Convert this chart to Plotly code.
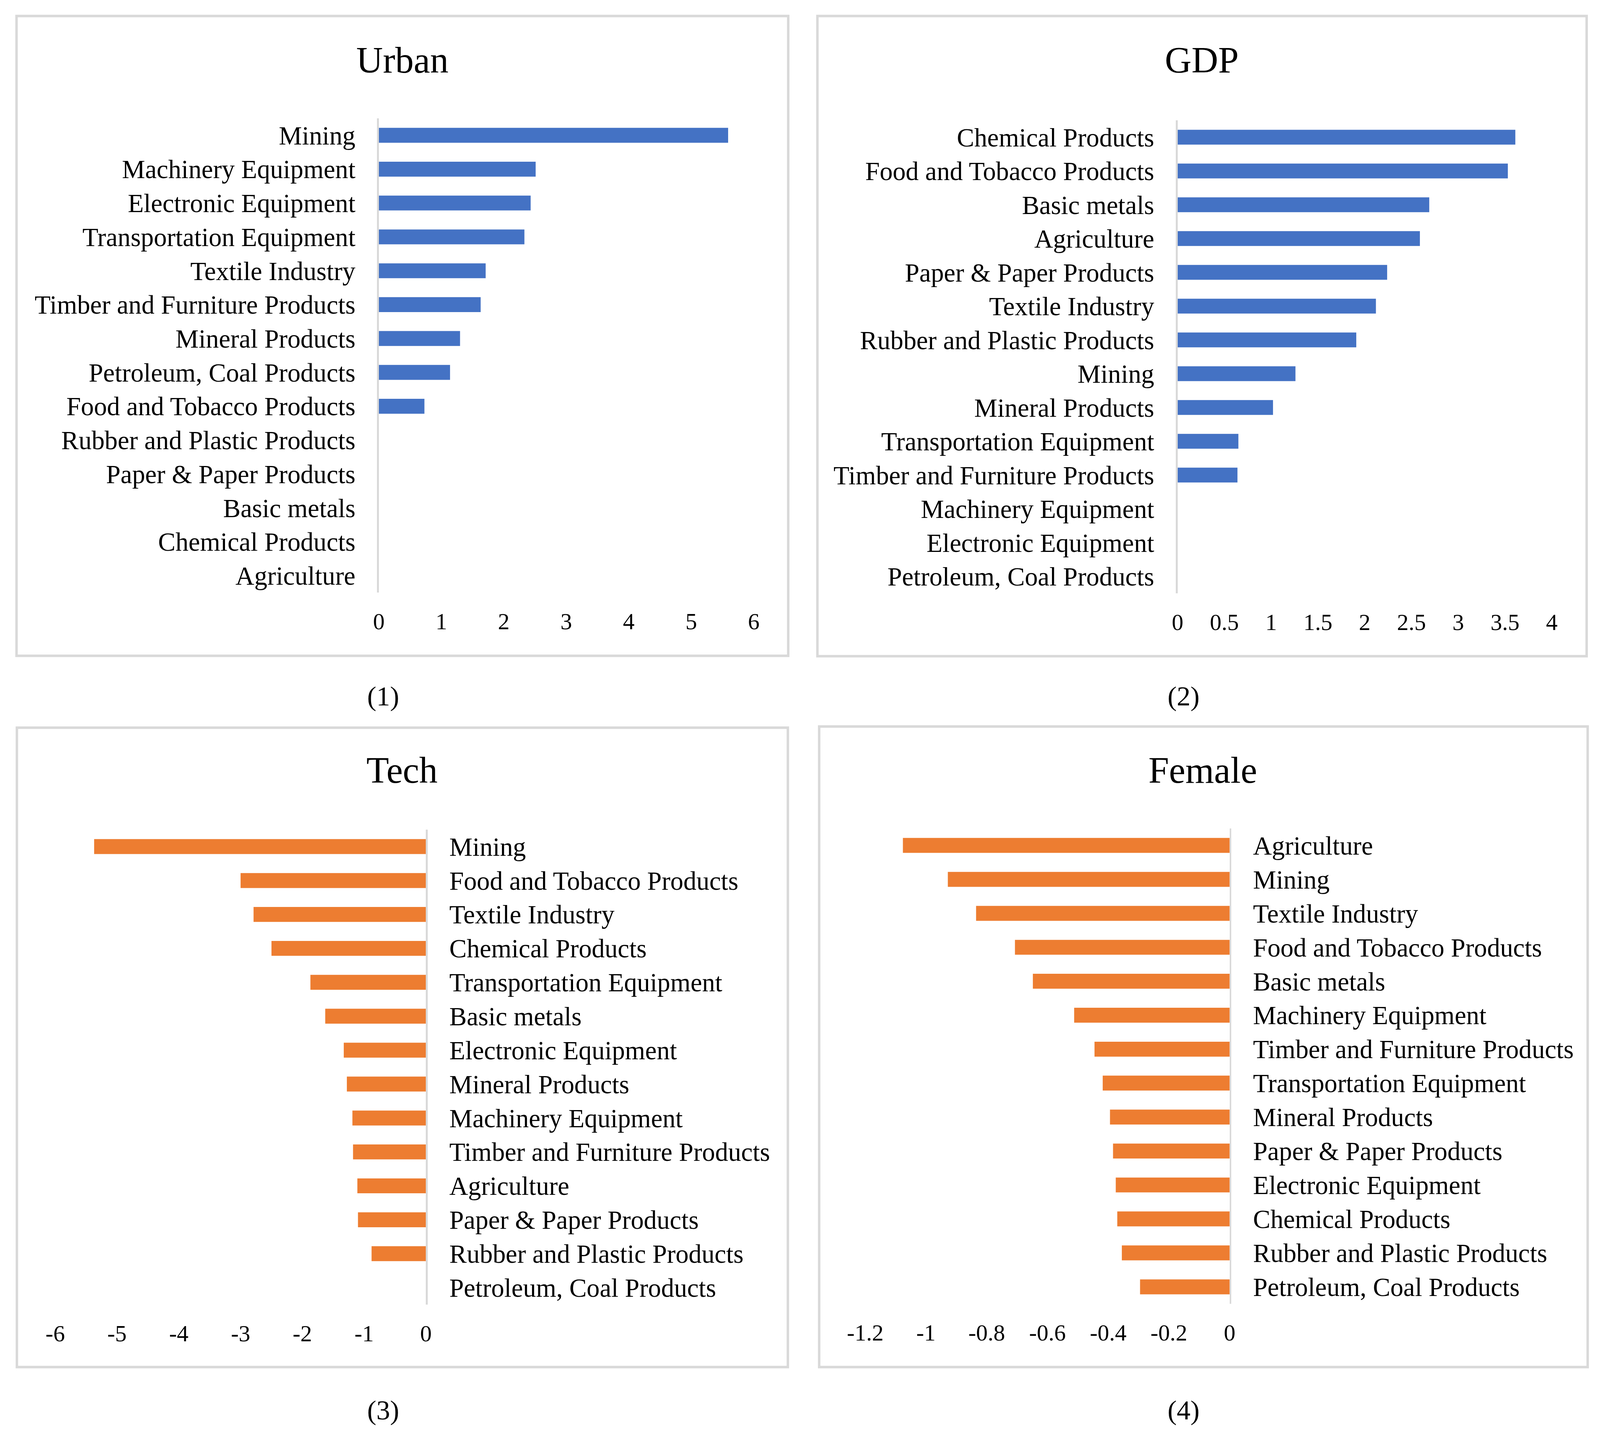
import plotly.graph_objects as go

# Reference geometry is 4549 x 3679; the browser viewport is 4096 x 3679,
# so positions are kept as fractions of the reference and sizes scaled.
REF_W, REF_H = 4549, 3679
FIG_W, FIG_H = 4096, 3679
S = FIG_W / REF_W

FONT = "Liberation Serif, Times New Roman, serif"
BLUE = "#4472C4"
ORANGE = "#ED7D31"
GREY = "#d9d9d9"

# ---------------- data ----------------
urban_categories = ["Mining", "Machinery Equipment", "Electronic Equipment", "Transportation Equipment",
                    "Textile Industry", "Timber and Furniture Products", "Mineral Products",
                    "Petroleum, Coal Products", "Food and Tobacco Products", "Rubber and Plastic Products",
                    "Paper & Paper Products", "Basic metals", "Chemical Products", "Agriculture"]
urban_values = [5.59, 2.51, 2.43, 2.33, 1.71, 1.63, 1.30, 1.14, 0.73, 0, 0, 0, 0, 0]

gdp_categories = ["Chemical Products", "Food and Tobacco Products", "Basic metals", "Agriculture",
                  "Paper & Paper Products", "Textile Industry", "Rubber and Plastic Products", "Mining",
                  "Mineral Products", "Transportation Equipment", "Timber and Furniture Products",
                  "Machinery Equipment", "Electronic Equipment", "Petroleum, Coal Products"]
gdp_values = [3.61, 3.53, 2.69, 2.59, 2.24, 2.12, 1.91, 1.26, 1.02, 0.65, 0.64, 0, 0, 0]

tech_categories = ["Mining", "Food and Tobacco Products", "Textile Industry", "Chemical Products",
                   "Transportation Equipment", "Basic metals", "Electronic Equipment", "Mineral Products",
                   "Machinery Equipment", "Timber and Furniture Products", "Agriculture",
                   "Paper & Paper Products", "Rubber and Plastic Products", "Petroleum, Coal Products"]
tech_values = [-5.37, -3.00, -2.79, -2.50, -1.87, -1.63, -1.33, -1.28, -1.19, -1.18, -1.11, -1.10, -0.88, 0]

female_categories = ["Agriculture", "Mining", "Textile Industry", "Food and Tobacco Products", "Basic metals",
                     "Machinery Equipment", "Timber and Furniture Products", "Transportation Equipment",
                     "Mineral Products", "Paper & Paper Products", "Electronic Equipment",
                     "Chemical Products", "Rubber and Plastic Products", "Petroleum, Coal Products"]
female_values = [-1.076, -0.928, -0.835, -0.707, -0.648, -0.512, -0.445, -0.418, -0.394, -0.384,
                 -0.375, -0.370, -0.355, -0.295]

urban_ticks = [0, 1, 2, 3, 4, 5, 6]
urban_ticktext = ["0", "1", "2", "3", "4", "5", "6"]
gdp_ticks = [0, 0.5, 1, 1.5, 2, 2.5, 3, 3.5, 4]
gdp_ticktext = ["0", "0.5", "1", "1.5", "2", "2.5", "3", "3.5", "4"]
tech_ticks = [-6, -5, -4, -3, -2, -1, 0]
tech_ticktext = ["-6", "-5", "-4", "-3", "-2", "-1", "0"]
female_ticks = [-1.2, -1, -0.8, -0.6, -0.4, -0.2, 0]
female_ticktext = ["-1.2", "-1", "-0.8", "-0.6", "-0.4", "-0.2", "0"]

titles = ["Urban", "GDP", "Tech", "Female"]
captions = ["(1)", "(2)", "(3)", "(4)"]

# ---------------- layout helpers (reference pixel geometry -> paper fractions) ----------------
def fx(px):
    return px / REF_W

def fy(py):
    return 1 - py / REF_H

panels = [
    dict(cats=urban_categories, vals=urban_values, color=BLUE, ticks=urban_ticks, ticktext=urban_ticktext,
         xr=[0, 6], xdom=(1077, 2143), ydom=(303, 1517), side="left"),
    dict(cats=gdp_categories, vals=gdp_values, color=BLUE, ticks=gdp_ticks, ticktext=gdp_ticktext,
         xr=[0, 4], xdom=(3348, 4412), ydom=(308, 1519), side="left"),
    dict(cats=tech_categories, vals=tech_values, color=ORANGE, ticks=tech_ticks, ticktext=tech_ticktext,
         xr=[-6, 0], xdom=(157, 1211), ydom=(2124, 3340), side="right"),
    dict(cats=female_categories, vals=female_values, color=ORANGE, ticks=female_ticks, ticktext=female_ticktext,
         xr=[-1.2, 0], xdom=(2460, 3496), ydom=(2121, 3338), side="right"),
]

fig = go.Figure()
layout = dict(
    width=FIG_W, height=FIG_H, autosize=False,
    margin=dict(l=0, r=0, t=0, b=0, pad=0),
    paper_bgcolor="white", plot_bgcolor="white",
    showlegend=False, bargap=0.56,
    font=dict(family=FONT, color="black"),
)

for i, p in enumerate(panels, start=1):
    xa = "x" if i == 1 else f"x{i}"
    ya = "y" if i == 1 else f"y{i}"
    fig.add_trace(go.Bar(
        x=p["vals"], y=p["cats"], orientation="h",
        marker=dict(color=p["color"], line=dict(width=0)),
        xaxis=xa, yaxis=ya, hoverinfo="skip",
    ))
    n = len(p["cats"])
    layout["xaxis" if i == 1 else f"xaxis{i}"] = dict(
        domain=[fx(p["xdom"][0]), fx(p["xdom"][1])],
        anchor=ya, range=p["xr"], automargin=False,
        tickmode="array", tickvals=p["ticks"], ticktext=p["ticktext"],
        showgrid=False, zeroline=False, showline=False, ticks="",
        tickfont=dict(family=FONT, size=66 * S, color="black"),
        ticklabelstandoff=34, fixedrange=True,
    )
    layout["yaxis" if i == 1 else f"yaxis{i}"] = dict(
        domain=[fy(p["ydom"][1]), fy(p["ydom"][0])],
        anchor=xa, type="category", automargin=False,
        categoryorder="array", categoryarray=p["cats"],
        tickmode="array", tickvals=p["cats"], ticktext=p["cats"],
        range=[n - 0.5, -0.5],
        side=p["side"],
        showgrid=False, zeroline=False, showline=True,
        linecolor=GREY, linewidth=5 * S, ticks="",
        tickfont=dict(family=FONT, size=74 * S, color="black"),
        ticklabelstandoff=42, fixedrange=True,
    )

# panel borders
borders = [(47, 41, 2241, 1679), (2324, 41, 4511, 1680), (48, 1863, 2240, 3500), (2329, 1860, 4514, 3500)]
shapes = []
for (x0, y0, x1, y1) in borders:
    shapes.append(dict(type="rect", xref="paper", yref="paper",
                       x0=fx(x0), x1=fx(x1), y0=fy(y1), y1=fy(y0),
                       line=dict(color=GREY, width=7 * S), fillcolor="rgba(0,0,0,0)", layer="below"))
layout["shapes"] = shapes

title_pos = [(1144, 154), (3417, 154), (1143, 1972), (3420, 1972)]
caption_pos = [(1089, 1782), (3365, 1782), (1089, 3610), (3365, 3610)]
annotations = []
for t, (x, y) in zip(titles, title_pos):
    annotations.append(dict(text=t, x=fx(x), y=fy(y), xref="paper", yref="paper",
                            xanchor="center", yanchor="middle", showarrow=False,
                            font=dict(family=FONT, size=105 * S, color="black")))
for c, (x, y) in zip(captions, caption_pos):
    annotations.append(dict(text=c, x=fx(x), y=fy(y), xref="paper", yref="paper",
                            xanchor="center", yanchor="middle", showarrow=False,
                            font=dict(family=FONT, size=78 * S, color="black")))
layout["annotations"] = annotations

fig.update_layout(**layout)
fig.write_html("out.html",
               config={"displayModeBar": False, "staticPlot": True},
               post_script="document.body.style.margin='0';document.body.style.overflow='hidden';")
